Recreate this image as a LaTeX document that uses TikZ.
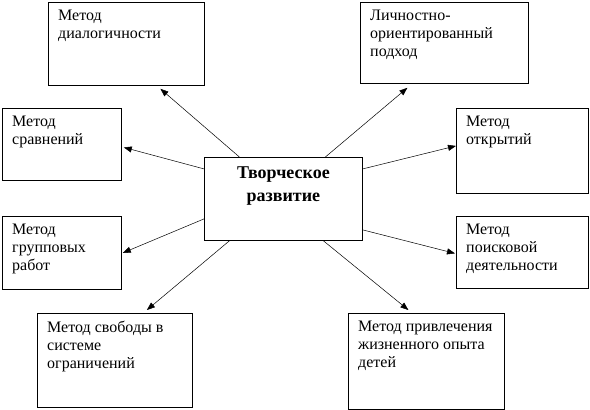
\documentclass[tikz,border=0pt]{standalone}
\usepackage{fontspec}
\setmainfont{Liberation Serif}
\usetikzlibrary{arrows.meta,calc}
\begin{document}
\begin{tikzpicture}[x=1pt,y=-1pt,
  box/.style={draw, line width=0.8pt, inner sep=0pt, anchor=north west},
  txt/.style={anchor=north west, inner sep=0pt, align=left, font=\fontsize{16}{18}\selectfont},
  ctxt/.style={anchor=north, inner sep=0pt, align=center, font=\fontsize{18}{23}\selectfont\bfseries},
  arr/.style={-{Triangle[length=8pt,width=6pt]}, line width=0.5pt}]
\useasboundingbox (0,0) rectangle (590,410);
% boxes
\node[box, minimum width=156pt, minimum height=83pt] (b1) at (48,2) {};
\node[box, minimum width=168pt, minimum height=81pt] (b2) at (360,2) {};
\node[box, minimum width=119pt, minimum height=72pt] (b3) at (2,108) {};
\node[box, minimum width=132pt, minimum height=85pt] (b4) at (456,108) {};
\node[box, minimum width=158pt, minimum height=83pt] (c) at (204,157) {};
\node[box, minimum width=119pt, minimum height=73pt] (b6) at (2,216) {};
\node[box, minimum width=132pt, minimum height=72pt] (b7) at (456,216) {};
\node[box, minimum width=155pt, minimum height=94pt] (b8) at (37,313) {};
\node[box, minimum width=156pt, minimum height=96pt] (b9) at (348,313) {};
% texts
\node[txt] (t1) at ($(b1.north west)+(10,8)$) {Метод\\диалогичности};
\node[txt] (t2) at ($(b2.north west)+(10,8)$) {Личностно-\\ориентированный\\подход};
\node[txt] (t3) at ($(b3.north west)+(10,8)$) {Метод\\сравнений};
\node[txt] (t4) at ($(b4.north west)+(10,8)$) {Метод\\открытий};
\node[ctxt] (tc) at ($(c.north)+(0,10)$) {Творческое\\развитие};
\node[txt] (t6) at ($(b6.north west)+(10,8)$) {Метод\\групповых\\работ};
\node[txt] (t7) at ($(b7.north west)+(10,8)$) {Метод\\поисковой\\деятельности};
\node[txt] (t8) at ($(b8.north west)+(10,8)$) {Метод свободы в\\системе\\ограничений};
\node[txt] (t9) at ($(b9.north west)+(10,8)$) {Метод привлечения\\жизненного опыта\\детей};
% arrows
\draw[arr] ($(c.north)+(-44,0)$) -- ($(b1.south)+(34,3)$);
\draw[arr] ($(c.north)+(42,0)$) -- ($(b2.south)+(-37,4)$);
\draw[arr] ($(c.west)+(0,-30)$) -- ($(b3.east)+(2,3)$);
\draw[arr] ($(c.east)+(0,-30)$) -- ($(b4.west)+(0,-5)$);
\draw[arr] ($(c.west)+(0,20)$) -- ($(b6.east)+(1,0)$);
\draw[arr] ($(c.east)+(0,31)$) -- ($(b7.west)+(-1,1)$);
\draw[arr] ($(c.south)+(-54,0)$) -- ($(b8.north)+(32,-3)$);
\draw[arr] ($(c.south)+(40,0)$) -- ($(b9.north)+(-18,-3)$);
\end{tikzpicture}
\end{document}
